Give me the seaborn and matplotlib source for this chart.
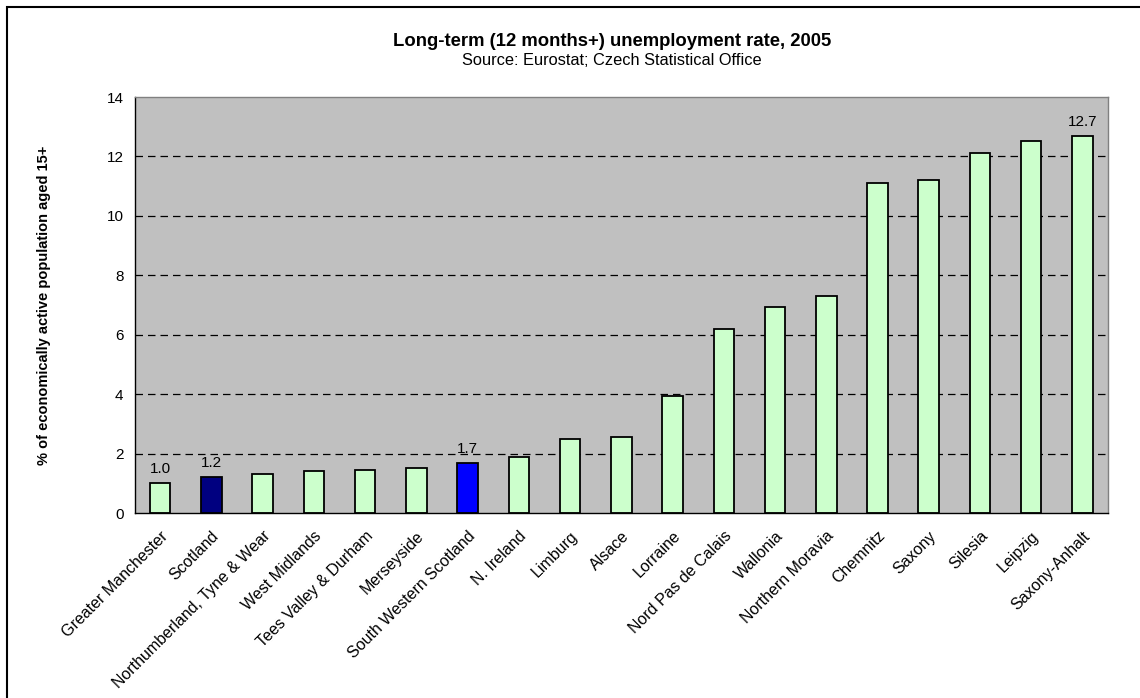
import matplotlib
matplotlib.use("Agg")
import matplotlib.pyplot as plt
import seaborn as sns
from matplotlib.patches import Rectangle

# === DATA ===
regions = [
    "Greater Manchester", "Scotland", "Northumberland, Tyne & Wear",
    "West Midlands", "Tees Valley & Durham", "Merseyside",
    "South Western Scotland", "N. Ireland", "Limburg", "Alsace", "Lorraine",
    "Nord Pas de Calais", "Wallonia", "Northern Moravia", "Chemnitz",
    "Saxony", "Silesia", "Leipzig", "Saxony-Anhalt",
]
rates = [1.0, 1.2, 1.33, 1.42, 1.46, 1.52, 1.7, 1.9, 2.5, 2.57, 3.95,
         6.19, 6.93, 7.3, 11.11, 11.22, 12.11, 12.53, 12.7]
highlight = {"Scotland": "#000080", "South Western Scotland": "#0000FF"}
labelled = ["Greater Manchester", "Scotland", "South Western Scotland", "Saxony-Anhalt"]
yticks = [0, 2, 4, 6, 8, 10, 12, 14]

# === STYLE ===
sns.set_style("white")
plt.rcParams["font.family"] = ["Liberation Sans", "DejaVu Sans"]
plt.rcParams["text.color"] = "black"
plt.rcParams["axes.labelcolor"] = "black"
plt.rcParams["xtick.color"] = "black"
plt.rcParams["ytick.color"] = "black"

palette = {r: highlight.get(r, "#CCFFCC") for r in regions}

fig = plt.figure(figsize=(11.4, 6.98), dpi=100)
ax = fig.add_axes([0.118, 0.265, 0.854, 0.596])
ax.set_facecolor("#C0C0C0")

sns.barplot(x=regions, y=rates, hue=regions, palette=palette, legend=False,
            width=0.4, edgecolor="black", linewidth=1.3, saturation=1, ax=ax)

# data labels
for patch, region, val in zip(ax.patches, regions, rates):
    if region in labelled:
        ax.annotate(f"{val:.1f}", (patch.get_x() + patch.get_width() / 2, val),
                    xytext=(0, 5), textcoords="offset points",
                    ha="center", va="bottom", fontsize=11)

# === AXES ===
ax.set_xlim(-0.5, len(regions) - 0.5)
ax.set_ylim(0, 14)
ax.set_yticks(yticks)
ax.set_yticklabels([str(t) for t in yticks], fontsize=11)
for t in yticks[1:-1]:
    ax.axhline(t, color="black", linestyle=(0, (6, 4)), linewidth=0.9, zorder=0.5)

ax.set_xticks(range(len(regions)))
ax.set_xticklabels(regions, rotation=45, ha="right", rotation_mode="anchor", fontsize=11.5)
ax.set_xticks([i - 0.5 for i in range(len(regions) + 1)], minor=True)
ax.tick_params(axis="x", which="major", length=0, pad=11)
ax.tick_params(axis="x", which="minor", length=5, width=1, color="black", direction="out")
ax.tick_params(axis="y", length=5, width=1, color="black", direction="out", pad=3)

for side in ["left", "bottom"]:
    ax.spines[side].set_color("black")
    ax.spines[side].set_linewidth(1)
for side in ["top", "right"]:
    ax.spines[side].set_color("#808080")
    ax.spines[side].set_linewidth(1)

ax.set_ylabel("% of economically active population aged 15+", fontsize=10.5,
              fontweight="bold", labelpad=40)
ax.set_xlabel("")

# === TITLES ===
fig.text(0.537, 0.941, "Long-term (12 months+) unemployment rate, 2005",
         ha="center", va="center", fontsize=13.3, fontweight="bold")
fig.text(0.537, 0.914, "Source: Eurostat; Czech Statistical Office",
         ha="center", va="center", fontsize=11.8)

# outer chart frame
fig.patches.append(Rectangle((7 / 1140, -0.1), 1.2, (698 - 7) / 698 + 0.1,
                             transform=fig.transFigure, fill=False,
                             edgecolor="black", linewidth=1.5))

fig.savefig("out.png", dpi=100)
